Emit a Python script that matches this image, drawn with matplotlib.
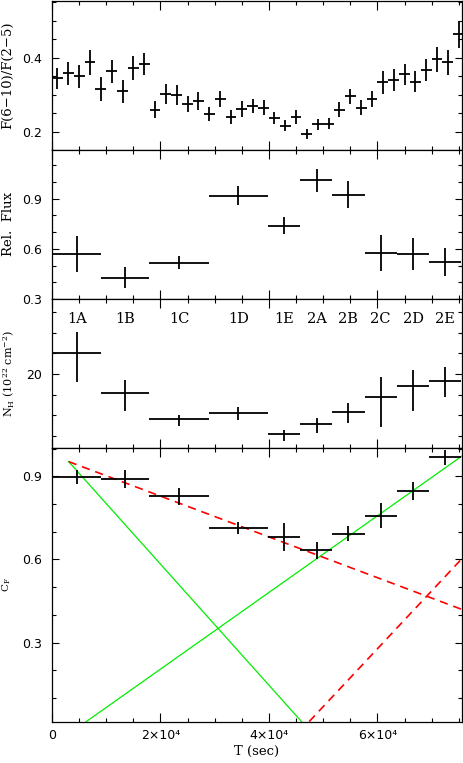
import matplotlib
matplotlib.use('Agg')
import matplotlib.pyplot as plt
from matplotlib.ticker import MultipleLocator, FixedLocator, FixedFormatter

plt.rcParams['font.family'] = ['DejaVu Sans']
plt.rcParams['mathtext.fontset'] = 'dejavuserif'

# hardness ratio, 2 ks bins
ratio_t = [1000, 3000, 5000, 7000, 9000, 11000, 13000, 15000, 17000, 19000,
           21000, 23000, 25000, 27000, 29000, 31000, 33000, 35000, 37000, 39000,
           41000, 43000, 45000, 47000, 49000, 51000, 53000, 55000, 57000, 59000,
           61000, 63000, 65000, 67000, 69000, 71000, 73000, 75000]
ratio = [0.344, 0.358, 0.350, 0.387, 0.315, 0.363, 0.309, 0.373, 0.382, 0.260,
         0.301, 0.298, 0.274, 0.283, 0.248, 0.289, 0.241, 0.261, 0.269, 0.265,
         0.237, 0.216, 0.240, 0.194, 0.220, 0.222, 0.260, 0.296, 0.265, 0.288,
         0.333, 0.339, 0.355, 0.335, 0.366, 0.396, 0.387, 0.463]
ratio_err = [0.029, 0.031, 0.031, 0.034, 0.032, 0.032, 0.031, 0.032, 0.030, 0.024,
             0.027, 0.027, 0.022, 0.024, 0.019, 0.021, 0.019, 0.022, 0.019, 0.020,
             0.016, 0.015, 0.019, 0.013, 0.015, 0.015, 0.020, 0.020, 0.020, 0.022,
             0.030, 0.030, 0.028, 0.028, 0.030, 0.034, 0.033, 0.037]
ratio_terr = 1000

# spectral segments
seg_names = ['1A', '1B', '1C', '1D', '1E', '2A', '2B', '2C', '2D', '2E']
seg_lo = [200, 9000, 17900, 28900, 39750, 45700, 51700, 57700, 63600, 69600]
seg_hi = [9000, 17900, 28900, 39750, 45700, 51700, 57700, 63600, 69600, 75500]
seg_mid = [4600, 13500, 23500, 34350, 42800, 48800, 54600, 60600, 66600, 72500]

flux = [0.570, 0.428, 0.518, 0.918, 0.740, 1.010, 0.924, 0.574, 0.568, 0.520]
flux_err = [0.108, 0.065, 0.040, 0.058, 0.052, 0.070, 0.082, 0.107, 0.097, 0.085]

nh = [22.00, 18.19, 15.68, 16.26, 14.16, 15.16, 16.35, 17.81, 18.84, 19.35]
nh_up = [2.03, 1.23, 0.35, 0.51, 0.42, 0.55, 0.81, 1.93, 1.55, 1.30]
nh_dn = [2.74, 1.74, 0.71, 0.71, 0.61, 0.84, 1.12, 2.97, 2.39, 1.54]

cf = [0.898, 0.890, 0.828, 0.713, 0.680, 0.633, 0.693, 0.758, 0.846, 0.969]
cf_err = [0.024, 0.033, 0.030, 0.021, 0.051, 0.030, 0.028, 0.045, 0.032, 0.027]

# model lines (start, end)
red1_x, red1_y = [3070, 75500], [0.953, 0.420]
red2_x, red2_y = [47420, 75500], [0.0145, 0.601]
green1_x, green1_y = [3070, 46010], [0.953, 0.0145]
green2_x, green2_y = [6320, 75500], [0.0145, 0.972]

W, H = 463, 763
fig = plt.figure(figsize=(W / 100, H / 100), dpi=100)


def add_panel(top_px, bot_px):
    left, right = 52, 462
    return fig.add_axes([left / W, 1 - bot_px / H, (right - left) / W, (bot_px - top_px) / H])


ax1 = add_panel(1, 149.5)
ax2 = add_panel(149.5, 299)
ax3 = add_panel(299, 447.5)
ax4 = add_panel(447.5, 722)
axes = [ax1, ax2, ax3, ax4]

serif = ['DejaVu Serif']
lab_font = dict(family=serif, fontsize=9.5)

for ax in axes:
    ax.set_xlim(0, 75600)
    ax.xaxis.set_major_locator(MultipleLocator(20000))
    ax.xaxis.set_minor_locator(MultipleLocator(5000))
    ax.tick_params(which='both', direction='in', top=True, right=True,
                   width=0.8, labelsize=9)
    ax.tick_params(axis='x', which='major', length=6.5, pad=5)
    ax.tick_params(axis='y', which='major', length=5, pad=7)
    ax.tick_params(which='minor', length=3.2)
    for s in ax.spines.values():
        s.set_linewidth(0.9)
    if ax is not ax4:
        ax.tick_params(axis='x', labelbottom=False)

ekw = dict(fmt='none', ecolor='black', elinewidth=1.3, capsize=0)

# panel 1
ax1.errorbar(ratio_t, ratio, xerr=ratio_terr, yerr=ratio_err, **ekw)
ax1.set_ylim(0.152, 0.553)
ax1.yaxis.set_major_locator(FixedLocator([0.2, 0.4]))
ax1.yaxis.set_major_formatter(FixedFormatter(['0.2', '0.4']))
ax1.yaxis.set_minor_locator(MultipleLocator(0.05))
ax1.set_ylabel('F(6\u221210)/F(2\u22125)', **lab_font)

# panel 2
seg_xerr = [[m - lo for m, lo in zip(seg_mid, seg_lo)],
            [hi - m for m, hi in zip(seg_mid, seg_hi)]]
ax2.errorbar(seg_mid, flux, xerr=seg_xerr, yerr=flux_err, **ekw)
ax2.set_ylim(0.3, 1.195)
ax2.yaxis.set_major_locator(FixedLocator([0.3, 0.6, 0.9]))
ax2.yaxis.set_major_formatter(FixedFormatter(['0.3', '0.6', '0.9']))
ax2.yaxis.set_minor_locator(MultipleLocator(0.1))
ax2.set_ylabel('Rel.  Flux', **lab_font)

# panel 3
ax3.errorbar(seg_mid, nh, xerr=seg_xerr, yerr=[nh_dn, nh_up], **ekw)
ax3.set_ylim(12.89, 27.26)
ax3.yaxis.set_major_locator(FixedLocator([20]))
ax3.yaxis.set_major_formatter(FixedFormatter(['20']))
ax3.yaxis.set_minor_locator(MultipleLocator(2))
ax3.set_ylabel(r'N$_{\rm H}$ (10$^{22}$ cm$^{-2}$)', family=serif, fontsize=8)
for name, m in zip(seg_names, seg_mid):
    ax3.text(m, 0.865, name, transform=ax3.get_xaxis_transform(),
             ha='center', va='center', family=serif, fontsize=10.5)

# panel 4
ax4.plot(green1_x, green1_y, color='#00ee00', lw=0.9)
ax4.plot(green2_x, green2_y, color='#00ee00', lw=0.9)
ax4.plot(red1_x, red1_y, color='#ff0000', lw=1.2, ls=(0, (5, 3.5)))
ax4.plot(red2_x, red2_y, color='#ff0000', lw=1.2, ls=(0, (5, 3.5)))
ax4.errorbar(seg_mid, cf, xerr=seg_xerr, yerr=cf_err, **ekw)
ax4.set_ylim(0.013, 1.004)
ax4.yaxis.set_major_locator(FixedLocator([0.3, 0.6, 0.9]))
ax4.yaxis.set_major_formatter(FixedFormatter(['0.3', '0.6', '0.9']))
ax4.yaxis.set_minor_locator(MultipleLocator(0.1))
ax4.set_ylabel(r'C$_{\rm F}$', family=serif, fontsize=7.5)
ax4.xaxis.set_major_locator(FixedLocator([0, 20000, 40000, 60000]))
ax4.xaxis.set_major_formatter(FixedFormatter(['0', '2\u00d710\u2074', '4\u00d710\u2074', '6\u00d710\u2074']))
ax4.set_xlabel('T (sec)', labelpad=2, **lab_font)

for ax, xr in zip(axes, [14, 15, 17, 13]):
    ax.yaxis.set_label_coords((xr - 52) / 410, 0.5)

fig.savefig('out.png', dpi=100)
